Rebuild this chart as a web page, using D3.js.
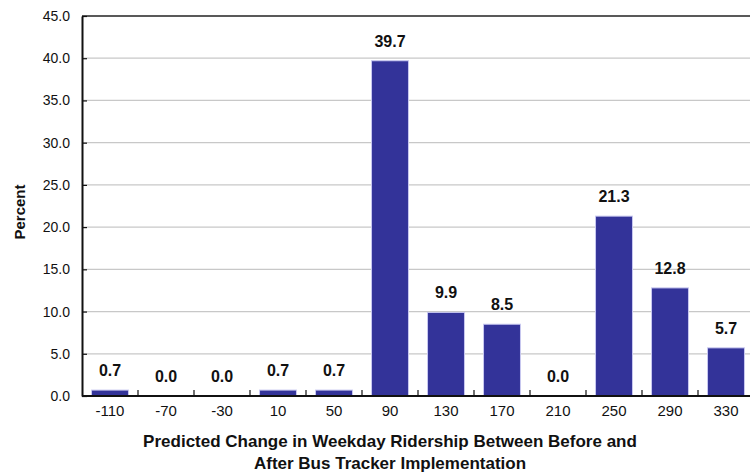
<!DOCTYPE html>
<html>
<head>
<meta charset="utf-8">
<script src="https://cdn.jsdelivr.net/npm/d3@7"></script>
<style>
  html, body { margin: 0; padding: 0; background: #fff; }
  svg { display: block; font-family: "Liberation Sans", Arial, sans-serif; }
</style>
</head>
<body>
<svg id="chart" width="750" height="472"></svg>
<script>
// Predicted change in weekday ridership (bin centres) and share of routes (%)
const categories = ["-110", "-70", "-30", "10", "50", "90", "130", "170", "210", "250", "290", "330"];
const percents = [0.7, 0.0, 0.0, 0.7, 0.7, 39.7, 9.9, 8.5, 0.0, 21.3, 12.8, 5.7];
const yTicks = [0, 5, 10, 15, 20, 25, 30, 35, 40, 45];

const svg = d3.select("#chart");
const margin = { left: 82, top: 16, right: -4, bottom: 76 };
const width = 750 - margin.left - margin.right;
const height = 472 - margin.top - margin.bottom;

const g = svg.append("g").attr("transform", `translate(${margin.left},${margin.top})`);

const x = d3.scaleBand().domain(categories).range([0, width]).paddingInner(0.34).paddingOuter(0.17);
const y = d3.scaleLinear().domain([0, 45]).range([height, 0]);

// horizontal gridlines
g.append("g")
  .selectAll("line")
  .data(yTicks.filter(t => t > 0 && t < 45))
  .join("line")
  .attr("x1", 0).attr("x2", width)
  .attr("y1", d => y(d)).attr("y2", d => y(d))
  .attr("stroke", "#c8c8c8").attr("stroke-width", 1.2);

// top border
g.append("line")
  .attr("x1", 0).attr("x2", width)
  .attr("y1", 0).attr("y2", 0)
  .attr("stroke", "#222").attr("stroke-width", 1.6);

// bars
g.append("g")
  .selectAll("rect")
  .data(percents)
  .join("rect")
  .attr("x", (d, i) => x(categories[i]))
  .attr("width", x.bandwidth())
  .attr("y", d => y(d))
  .attr("height", d => y(0) - y(d))
  .attr("fill", "#333399")
  .attr("stroke", "#c8c8f0")
  .attr("stroke-width", 1);

// value labels
g.append("g")
  .selectAll("text")
  .data(percents)
  .join("text")
  .attr("x", (d, i) => x(categories[i]) + x.bandwidth() / 2)
  .attr("y", d => y(d) - 14)
  .attr("text-anchor", "middle")
  .attr("font-size", 16)
  .attr("font-weight", "bold")
  .attr("fill", "#111")
  .text(d => d.toFixed(1));

// y axis
const yAxis = d3.axisLeft(y).tickValues(yTicks).tickFormat(d3.format(".1f")).tickSizeInner(-5).tickSizeOuter(0).tickPadding(12);
const ya = g.append("g").call(yAxis);
ya.select(".domain").attr("stroke", "#111").attr("stroke-width", 2);
ya.selectAll(".tick line").attr("stroke", "#111").attr("stroke-width", 1.2);
ya.selectAll(".tick text").attr("font-size", 14).attr("fill", "#111").attr("font-family", "Liberation Sans, Arial, sans-serif");

// x axis, ticks sit between categories
const xa = g.append("g").attr("transform", `translate(0,${height})`);
xa.append("line").attr("x1", 0).attr("x2", width).attr("stroke", "#111").attr("stroke-width", 2);
const step = x.step();
xa.selectAll("line.sep")
  .data(categories.slice(1))
  .join("line")
  .attr("class", "sep")
  .attr("x1", d => x(d) - (step - x.bandwidth()) / 2)
  .attr("x2", d => x(d) - (step - x.bandwidth()) / 2)
  .attr("y1", 0).attr("y2", -6)
  .attr("stroke", "#111").attr("stroke-width", 1.2);
xa.selectAll("text")
  .data(categories)
  .join("text")
  .attr("x", d => x(d) + x.bandwidth() / 2)
  .attr("y", 20)
  .attr("text-anchor", "middle")
  .attr("font-size", 15)
  .attr("fill", "#111")
  .text(d => d);

// axis titles
svg.append("text")
  .attr("transform", `translate(25,212) rotate(-90)`)
  .attr("text-anchor", "middle")
  .attr("font-size", 15)
  .attr("font-weight", "bold")
  .attr("fill", "#111")
  .text("Percent");

const xTitle = svg.append("text")
  .attr("text-anchor", "middle")
  .attr("font-size", 17)
  .attr("font-weight", "bold")
  .attr("fill", "#111");
xTitle.append("tspan").attr("x", 390).attr("y", 447).text("Predicted Change in Weekday Ridership Between Before and");
xTitle.append("tspan").attr("x", 390).attr("y", 469).text("After Bus Tracker Implementation");
</script>
</body>
</html>
